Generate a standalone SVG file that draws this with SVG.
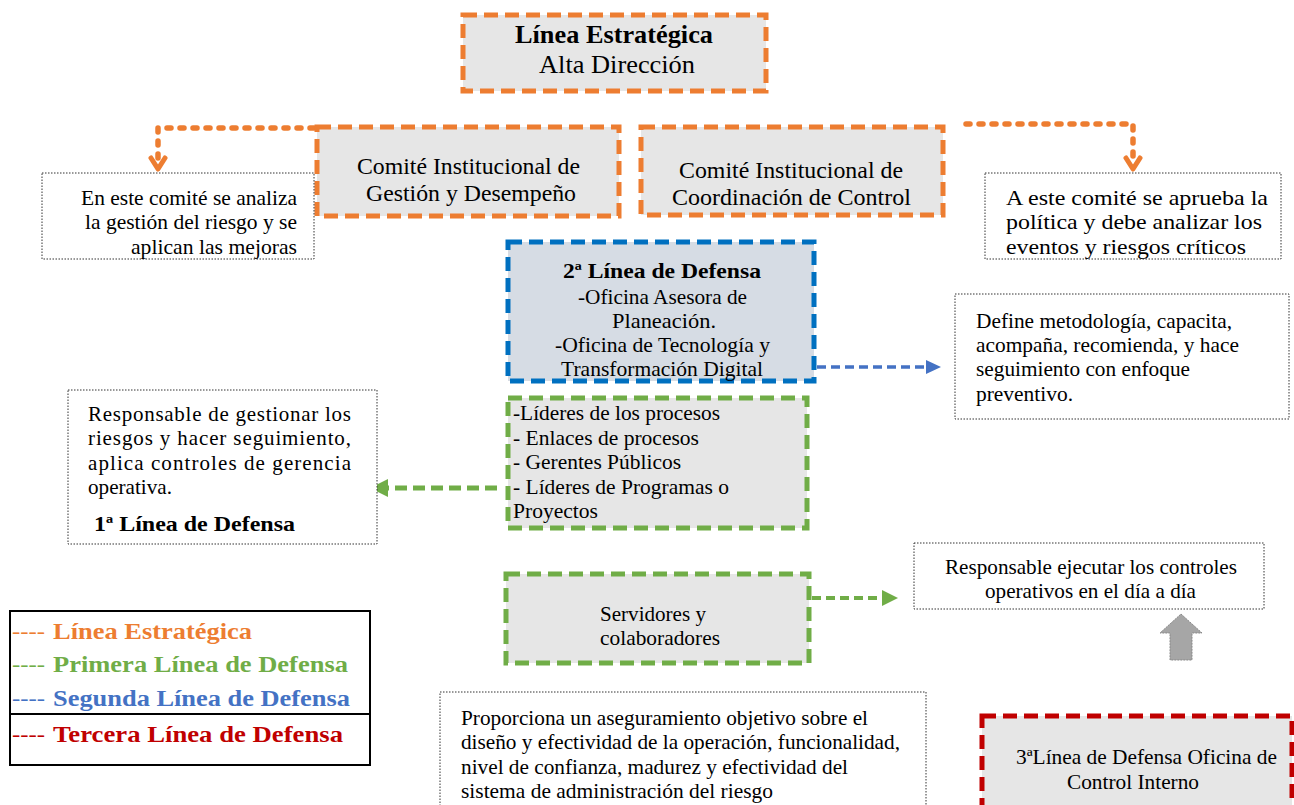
<svg xmlns="http://www.w3.org/2000/svg" width="1294" height="805" viewBox="0 0 1294 805">
<style>
text{font-family:"Liberation Serif","Times New Roman",serif;fill:#000;}
.t{font-size:21px;}
.c{font-size:23px;}
.b{font-weight:bold;}
.or{fill:#e6e6e6;stroke:#ed7d31;stroke-width:5;stroke-dasharray:14 7;}
.gr{fill:#e6e6e6;stroke:#70ad47;stroke-width:5;stroke-dasharray:14 7;}
.bl{fill:#d6dce4;stroke:#0070c0;stroke-width:5;stroke-dasharray:14 7;}
.rd{fill:#e6e6e6;stroke:#c00000;stroke-width:5;stroke-dasharray:14 7;}
.note{fill:#fff;stroke:#333;stroke-width:1;stroke-dasharray:1.5 1.5;}
.ocon{fill:none;stroke:#ed7d31;stroke-width:5.5;stroke-dasharray:4 9;stroke-linecap:round;stroke-linejoin:round;}
.ohead{fill:none;stroke:#ed7d31;stroke-width:5;stroke-linecap:round;stroke-linejoin:round;}
.lg{font-size:24px;}
.dash{font-size:22px;}
</style>
<rect width="1294" height="805" fill="#fff"/>

<g id="connectors">
  <path class="ocon" d="M314 128 H158 V160"/>
  <path class="ohead" d="M151 158 L158 169 L165 158"/>
  <path class="ocon" d="M966 124 H1133 V160"/>
  <path class="ohead" d="M1126 158 L1133 169 L1140 158"/>
  <path d="M817 367 H928" fill="none" stroke="#4472c4" stroke-width="3.5" stroke-dasharray="9 5"/>
  <path d="M926 360 L941 367 L926 374 Z" fill="#4472c4"/>
  <path d="M497 488 H386" fill="none" stroke="#70ad47" stroke-width="5" stroke-dasharray="12 6"/>
  <path d="M388 479 L370 488 L388 497 Z" fill="#70ad47"/>
  <path d="M812 598 H884" fill="none" stroke="#70ad47" stroke-width="4" stroke-dasharray="9 5"/>
  <path d="M882 590 L898 598 L882 606 Z" fill="#70ad47"/>
  <path d="M1181 614 L1202 633 H1192 V660 H1170 V633 H1160 Z" fill="#a6a6a6" stroke="#888" stroke-width="1" stroke-dasharray="2 1"/>
</g>

<g id="linea-estrategica">
  <rect class="or" x="463" y="15" width="303" height="76"/>
  <text class="b" x="515" y="43" font-size="26" textLength="198" lengthAdjust="spacingAndGlyphs">Línea Estratégica</text>
  <text x="539" y="73" font-size="26" textLength="156" lengthAdjust="spacingAndGlyphs">Alta Dirección</text>
</g>

<g id="comite-gestion">
  <rect class="or" x="317" y="127" width="302" height="89"/>
  <text class="c" x="357" y="174" textLength="223" lengthAdjust="spacingAndGlyphs">Comité Institucional de</text>
  <text class="c" x="366" y="201" textLength="210" lengthAdjust="spacingAndGlyphs">Gestión y Desempeño</text>
</g>

<g id="comite-coordinacion">
  <rect class="or" x="641" y="127" width="302" height="88"/>
  <text class="c" x="679" y="178" textLength="224" lengthAdjust="spacingAndGlyphs">Comité Institucional de</text>
  <text class="c" x="672" y="205" textLength="239" lengthAdjust="spacingAndGlyphs">Coordinación de Control</text>
</g>

<g id="nota-gestion">
  <rect class="note" x="42" y="173" width="272" height="86"/>
  <text class="t" x="81" y="205" textLength="216" lengthAdjust="spacingAndGlyphs">En este comité se analiza</text>
  <text class="t" x="85" y="229" textLength="212" lengthAdjust="spacingAndGlyphs">la gestión del riesgo y se</text>
  <text class="t" x="131" y="254" textLength="166" lengthAdjust="spacingAndGlyphs">aplican las mejoras</text>
</g>

<g id="nota-coordinacion">
  <rect class="note" x="985" y="173" width="296" height="86"/>
  <text class="t" x="1006" y="205" textLength="262" lengthAdjust="spacingAndGlyphs">A este comité se aprueba la</text>
  <text class="t" x="1006" y="229" textLength="256" lengthAdjust="spacingAndGlyphs">política y debe analizar los</text>
  <text class="t" x="1006" y="254" textLength="240" lengthAdjust="spacingAndGlyphs">eventos y riesgos críticos</text>
</g>

<g id="segunda-linea">
  <rect class="bl" x="508" y="242" width="306" height="139"/>
  <text class="t b" x="563" y="278" textLength="198" lengthAdjust="spacingAndGlyphs">2ª Línea de Defensa</text>
  <text class="t" x="578" y="304" textLength="169" lengthAdjust="spacingAndGlyphs">-Oficina Asesora de</text>
  <text class="t" x="612" y="328" textLength="104" lengthAdjust="spacingAndGlyphs">Planeación.</text>
  <text class="t" x="555" y="352" textLength="215" lengthAdjust="spacingAndGlyphs">-Oficina de Tecnología y</text>
  <text class="t" x="561" y="376" textLength="202" lengthAdjust="spacingAndGlyphs">Transformación Digital</text>
</g>

<g id="nota-segunda">
  <rect class="note" x="955" y="294" width="334" height="125"/>
  <text class="t" x="976" y="328" textLength="256" lengthAdjust="spacingAndGlyphs">Define metodología, capacita,</text>
  <text class="t" x="976" y="352" textLength="263" lengthAdjust="spacingAndGlyphs">acompaña, recomienda, y hace</text>
  <text class="t" x="976" y="376" textLength="214" lengthAdjust="spacingAndGlyphs">seguimiento con enfoque</text>
  <text class="t" x="976" y="401" textLength="97" lengthAdjust="spacingAndGlyphs">preventivo.</text>
</g>

<g id="lideres">
  <rect class="gr" x="508" y="398" width="299" height="130"/>
  <text class="t" x="513" y="420" textLength="207" lengthAdjust="spacingAndGlyphs">-Líderes de los procesos</text>
  <text class="t" x="513" y="445" textLength="186" lengthAdjust="spacingAndGlyphs">- Enlaces de procesos</text>
  <text class="t" x="513" y="469" textLength="168" lengthAdjust="spacingAndGlyphs">- Gerentes Públicos</text>
  <text class="t" x="513" y="494" textLength="216" lengthAdjust="spacingAndGlyphs">- Líderes de Programas o</text>
  <text class="t" x="513" y="518" textLength="85" lengthAdjust="spacingAndGlyphs">Proyectos</text>
</g>

<g id="primera-linea">
  <rect class="note" x="68" y="390" width="309" height="154"/>
  <text class="t" x="88" y="421" textLength="263" lengthAdjust="spacing">Responsable de gestionar los</text>
  <text class="t" x="88" y="445" textLength="263" lengthAdjust="spacing">riesgos y hacer seguimiento,</text>
  <text class="t" x="88" y="470" textLength="263" lengthAdjust="spacing">aplica controles de gerencia</text>
  <text class="t" x="88" y="494" textLength="84" lengthAdjust="spacingAndGlyphs">operativa.</text>
  <text class="b" x="94" y="531" font-size="22" textLength="201" lengthAdjust="spacingAndGlyphs">1ª Línea de Defensa</text>
</g>

<g id="servidores">
  <rect class="gr" x="506" y="574" width="303" height="89"/>
  <text class="t" x="600" y="621" textLength="106" lengthAdjust="spacingAndGlyphs">Servidores y</text>
  <text class="t" x="600" y="645" textLength="120" lengthAdjust="spacingAndGlyphs">colaboradores</text>
</g>

<g id="nota-servidores">
  <rect class="note" x="914" y="543" width="350" height="66"/>
  <text class="t" x="945" y="574" textLength="292" lengthAdjust="spacingAndGlyphs">Responsable ejecutar los controles</text>
  <text class="t" x="985" y="598" textLength="211" lengthAdjust="spacingAndGlyphs">operativos en el día a día</text>
</g>

<g id="nota-tercera">
  <rect class="note" x="440" y="692" width="486" height="120"/>
  <text class="t" x="461" y="725" textLength="407" lengthAdjust="spacingAndGlyphs">Proporciona un aseguramiento objetivo sobre el</text>
  <text class="t" x="461" y="749" textLength="439" lengthAdjust="spacingAndGlyphs">diseño y efectividad de la operación, funcionalidad,</text>
  <text class="t" x="461" y="774" textLength="387" lengthAdjust="spacingAndGlyphs">nivel de confianza, madurez y efectividad del</text>
  <text class="t" x="461" y="798" textLength="312" lengthAdjust="spacingAndGlyphs">sistema de administración del riesgo</text>
</g>

<g id="tercera-linea">
  <rect class="rd" x="982" y="716" width="310" height="95"/>
  <text class="t" x="1016" y="764" textLength="261" lengthAdjust="spacingAndGlyphs">3ªLínea de Defensa Oficina de</text>
  <text class="t" x="1067" y="789" textLength="132" lengthAdjust="spacingAndGlyphs">Control Interno</text>
</g>

<g id="leyenda">
  <rect x="10" y="611" width="360" height="154" fill="#fff" stroke="#000" stroke-width="2"/>
  <line x1="10" y1="714" x2="370" y2="714" stroke="#000" stroke-width="2"/>
  <text class="dash" x="12" y="638" textLength="33" lengthAdjust="spacingAndGlyphs" style="fill:#ed7d31">----</text>
  <text class="lg b" x="53" y="639" textLength="199" lengthAdjust="spacingAndGlyphs" style="fill:#ed7d31">Línea Estratégica</text>
  <text class="dash" x="12" y="671" textLength="33" lengthAdjust="spacingAndGlyphs" style="fill:#70ad47">----</text>
  <text class="lg b" x="53" y="672" textLength="295" lengthAdjust="spacingAndGlyphs" style="fill:#70ad47">Primera Línea de Defensa</text>
  <text class="dash" x="12" y="705" textLength="33" lengthAdjust="spacingAndGlyphs" style="fill:#4472c4">----</text>
  <text class="lg b" x="53" y="706" textLength="297" lengthAdjust="spacingAndGlyphs" style="fill:#4472c4">Segunda Línea de Defensa</text>
  <text class="dash" x="12" y="741" textLength="33" lengthAdjust="spacingAndGlyphs" style="fill:#c00000">----</text>
  <text class="lg b" x="53" y="742" textLength="290" lengthAdjust="spacingAndGlyphs" style="fill:#c00000">Tercera Línea de Defensa</text>
</g>
</svg>
